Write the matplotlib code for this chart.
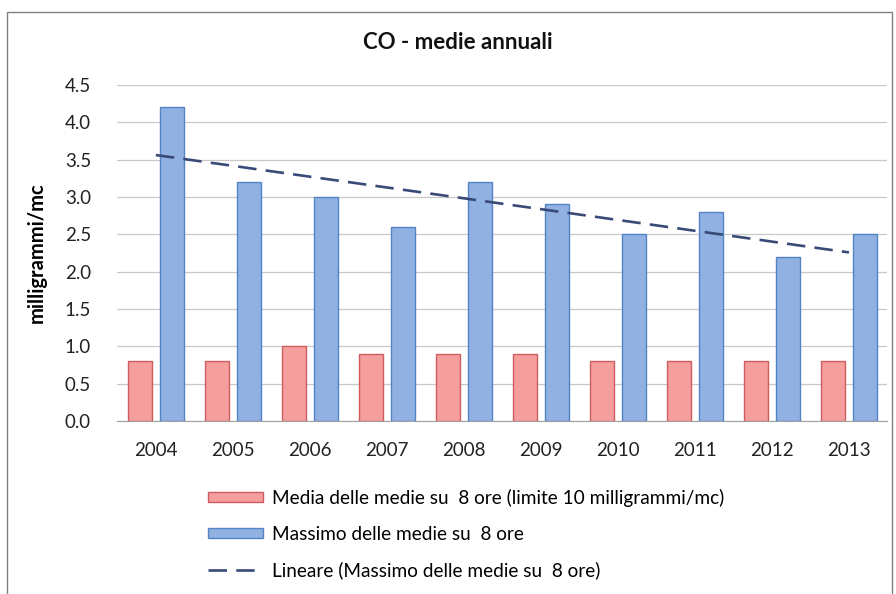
import numpy as np
import matplotlib
matplotlib.use("Agg")
import matplotlib.pyplot as plt
from matplotlib.patches import Rectangle, Patch
from matplotlib.lines import Line2D

plt.rcParams['font.family'] = ['Lato', 'DejaVu Sans']

years = ["2004", "2005", "2006", "2007", "2008", "2009", "2010", "2011", "2012", "2013"]
media = [0.8, 0.8, 1.0, 0.9, 0.9, 0.9, 0.8, 0.8, 0.8, 0.8]
massimo = [4.2, 3.2, 3.0, 2.6, 3.2, 2.9, 2.5, 2.8, 2.2, 2.5]
yticks = [0.0, 0.5, 1.0, 1.5, 2.0, 2.5, 3.0, 3.5, 4.0, 4.5]

label_media = "Media delle medie su  8 ore (limite 10 milligrammi/mc)"
label_max = "Massimo delle medie su  8 ore"
label_trend = "Lineare (Massimo delle medie su  8 ore)"

RED_FILL, RED_EDGE = "#F49E9E", "#D05C5C"
BLUE_FILL, BLUE_EDGE = "#90B1E1", "#5584C4"
TREND = "#3A4A78"

fig = plt.figure(figsize=(8.96, 5.94), dpi=100)
ax = fig.add_axes([0.131, 0.291, 0.8595, 0.566])

x = np.arange(len(years))
w = 0.31
ax.bar(x - 0.205, media, width=w, color=RED_FILL, edgecolor=RED_EDGE, linewidth=1.0, zorder=3)
ax.bar(x + 0.205, massimo, width=w, color=BLUE_FILL, edgecolor=BLUE_EDGE, linewidth=1.0, zorder=3)

# linear trend of the maxima
coef = np.polyfit(x, massimo, 1)
ax.plot(x, np.polyval(coef, x), color=TREND, linewidth=1.9, dashes=(7, 3.5), zorder=4)

ax.set_xlim(-0.5, len(years) - 0.5)
ax.set_ylim(0, 4.5)
ax.set_yticks(yticks)
ax.set_yticklabels([f"{v:.1f}" for v in yticks])
ax.set_xticks(x)
ax.set_xticklabels(years)
ax.tick_params(axis="both", length=0, labelsize=13.5, colors="#222222")
ax.tick_params(axis="x", pad=15)
ax.tick_params(axis="y", pad=19)
ax.grid(axis="y", color="#C8C8C8", linewidth=0.9, zorder=0)
for s in ["left", "right", "top"]:
    ax.spines[s].set_visible(False)
ax.spines["bottom"].set_color("#A0A0A0")

ax.set_ylabel("milligrammi/mc", fontsize=14.5, fontweight="bold", labelpad=13)
fig.text(0.511, 0.928, "CO - medie annuali", ha="center", va="center",
         fontsize=16, fontweight="bold", color="#111111")

handles = [
    Patch(facecolor=RED_FILL, edgecolor=RED_EDGE),
    Patch(facecolor=BLUE_FILL, edgecolor=BLUE_EDGE),
    Line2D([0], [0], color=TREND, linewidth=1.9, dashes=(7, 3.5)),
]
fig.legend(handles, [label_media, label_max, label_trend], loc="center left",
           bbox_to_anchor=(0.232, 0.101), frameon=False, fontsize=13.7,
           borderpad=0, borderaxespad=0,
           handlelength=2.9, handleheight=0.45, labelspacing=0.98, handletextpad=0.45)

fig.patches.append(Rectangle((0.008, -0.02), 0.988, 1.0, transform=fig.transFigure,
                             fill=False, edgecolor="#808080", linewidth=1.0))

fig.savefig("out.png", dpi=100)
